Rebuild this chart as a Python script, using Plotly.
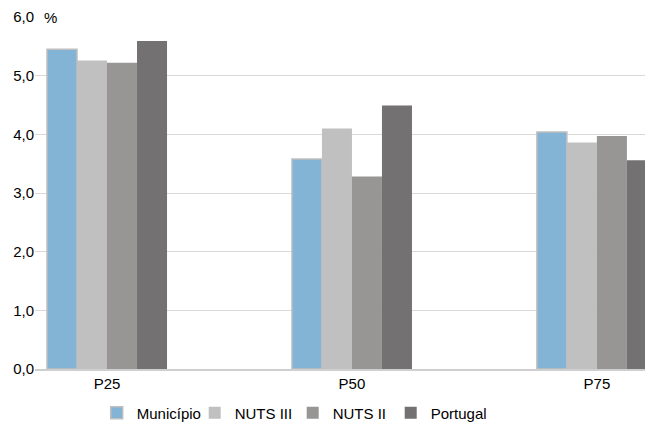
import plotly.graph_objects as go

categories = ["P25", "P50", "P75"]
series_names = ["Município", "NUTS III", "NUTS II", "Portugal"]
municipio = [5.45, 3.58, 4.04]
nuts3 = [5.26, 4.10, 3.86]
nuts2 = [5.22, 3.28, 3.97]
portugal = [5.59, 4.49, 3.56]
colors = ["#83B4D5", "#C0C0C0", "#979695", "#737171"]
y_ticks = [0, 1, 2, 3, 4, 5, 6]

values = [municipio, nuts3, nuts2, portugal]

fig = go.Figure()
for i, (name, vals) in enumerate(zip(series_names, values)):
    line = dict(color="#BFBFBF", width=1.5) if i == 0 else dict(width=0)
    fig.add_trace(go.Bar(
        x=categories, y=vals, name=name,
        marker=dict(color=colors[i], line=line),
    ))

fig.update_layout(
    width=653, height=426,
    margin=dict(l=27, r=8, t=9, b=65, autoexpand=False),
    paper_bgcolor="white", plot_bgcolor="white",
    barmode="group", bargap=0.51, bargroupgap=0,
    separators=",.",
    font=dict(family="Liberation Sans, Arial, sans-serif", size=15, color="#000000"),
    showlegend=True,
    legend=dict(orientation="h", x=0.417, xanchor="center", y=-0.125, yanchor="middle",
                font=dict(size=15), itemwidth=30, traceorder="normal",
                entrywidth=53, entrywidthmode="pixels"),
    xaxis=dict(range=[-0.294, 2.229], showgrid=False, showline=True, automargin=False,
               linecolor="#CFCFCF", linewidth=1.5, ticks="", tickfont=dict(size=15)),
    yaxis=dict(range=[0, 6], tickvals=y_ticks, tickformat=".1f", showgrid=True,
               automargin=False,
               gridcolor="#D9D9D9", gridwidth=1.2, zeroline=False, showline=False,
               ticks="", ticklen=0, tickfont=dict(size=15)),
    annotations=[dict(text="%", xref="paper", yref="paper", x=0.012, y=1.0,
                      xanchor="left", yanchor="middle", showarrow=False,
                      font=dict(size=15))],
)

fig.write_html("out.html")
